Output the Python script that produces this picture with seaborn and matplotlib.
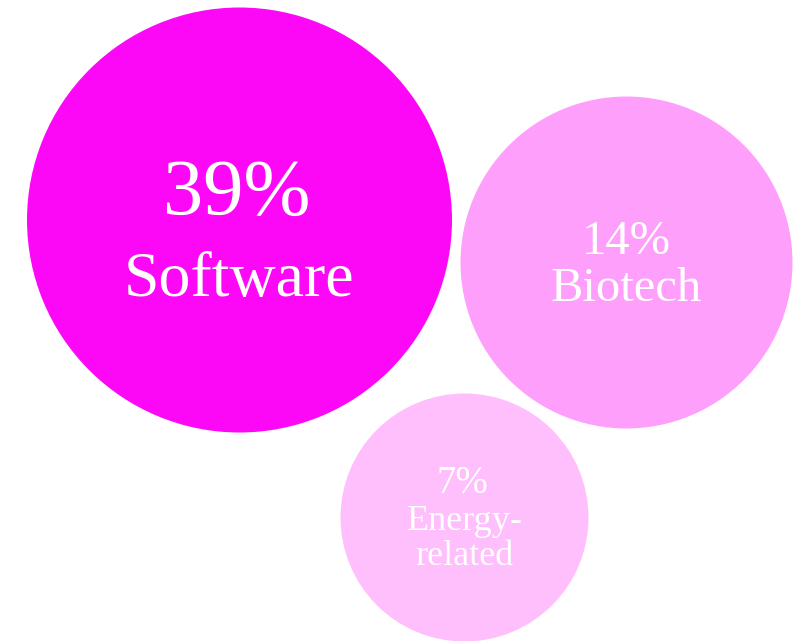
import matplotlib
matplotlib.use("Agg")
import matplotlib.pyplot as plt
import seaborn as sns
import pandas as pd

# ---- data ----
categories = ["Software", "Biotech", "Energy-\nrelated"]
shares = [39, 14, 7]

# ---- layout (pixel coordinates in an 794x641 canvas) ----
cx = [239.5, 626.5, 464.5]
cy = [220.0, 262.5, 517.5]
radius_px = [212.5, 166.0, 124.0]
colors = ["#FD08F7", "#FF9FFC", "#FFBEFC"]
pct_size = [58, 35, 28]
lab_size = [46, 35, 26]
pct_base = [215, 254, 493]
lab_base = [296, 301, 530]
lab_gap = [0, 0, 35]
pct_dx = [-3, 0, -2]

sns.set_theme(style="white")
plt.rcParams["font.family"] = ["Liberation Serif", "DejaVu Serif"]

W, H, DPI = 794, 641, 100
fig = plt.figure(figsize=(W / DPI, H / DPI), dpi=DPI)
ax = fig.add_axes([0, 0, 1, 1])

df = pd.DataFrame({"x": cx, "y": cy, "cat": categories, "share": shares})
# marker size in points^2: diameter in points = 2r px * 72/dpi
size_map = {c: (2 * r * 72 / DPI) ** 2 for c, r in zip(categories, radius_px)}
sns.scatterplot(data=df, x="x", y="y", hue="cat", palette=dict(zip(categories, colors)),
                size="cat", sizes=size_map, linewidth=0, legend=False, ax=ax, alpha=1)

for i, cat in enumerate(categories):
    ax.text(cx[i] + pct_dx[i], pct_base[i], f"{shares[i]}%", ha="center", va="baseline",
            color="white", fontsize=pct_size[i])
    lines = cat.split("\n")
    for j, ln in enumerate(lines):
        ax.text(cx[i], lab_base[i] + j * lab_gap[i], ln, ha="center", va="baseline",
                color="white", fontsize=lab_size[i])

ax.set_xlim(0, W)
ax.set_ylim(H, 0)
ax.set_axis_off()
fig.savefig("out.png", dpi=DPI, facecolor="white")
